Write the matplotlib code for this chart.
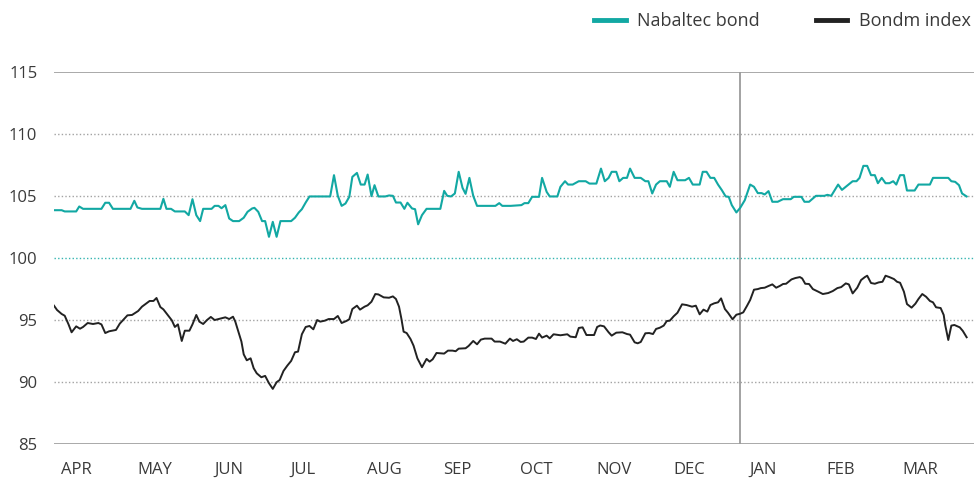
import matplotlib
matplotlib.use("Agg")
import matplotlib.pyplot as plt
from matplotlib.lines import Line2D

# ---------------- data ----------------
months = ["APR", "MAY", "JUN", "JUL", "AUG", "SEP", "OCT", "NOV", "DEC", "JAN", "FEB", "MAR"]
year_break = 8.97  # position of the year change (in months from start of April)

# Nabaltec bond (x in months since start of April)
bond_t = [0.00, 0.10, 0.14, 0.29, 0.33, 0.38, 0.62, 0.67, 0.72, 0.77, 1.00, 1.05, 1.09, 1.15,
          1.39, 1.43, 1.47, 1.53, 1.58, 1.71, 1.76, 1.81, 1.86, 1.91, 1.95, 2.06, 2.10, 2.15,
          2.19, 2.24, 2.29, 2.34, 2.42, 2.48, 2.53, 2.59, 2.62, 2.67, 2.72, 2.76, 2.81, 2.86,
          2.91, 2.96, 3.10, 3.15, 3.20, 3.24, 3.29, 3.34, 3.61, 3.66, 3.71, 3.76, 3.81, 3.86,
          3.90, 3.96, 4.01, 4.06, 4.10, 4.15, 4.19, 4.24, 4.33, 4.38, 4.43, 4.47, 4.53, 4.58,
          4.62, 4.68, 4.72, 4.76, 4.81, 4.87, 5.05, 5.10, 5.14, 5.19, 5.24, 5.29, 5.34, 5.38,
          5.43, 5.48, 5.53, 5.77, 5.82, 5.86, 5.97, 6.11, 6.15, 6.20, 6.25, 6.34, 6.38, 6.44,
          6.48, 6.58, 6.62, 6.68, 6.72, 6.78, 6.86, 6.95, 7.00, 7.09, 7.15, 7.20, 7.25, 7.29,
          7.35, 7.39, 7.44, 7.49, 7.53, 7.59, 7.67, 7.73, 7.77, 7.82, 7.87, 7.92, 8.01, 8.05,
          8.10, 8.15, 8.25, 8.30, 8.35, 8.44, 8.48, 8.53, 8.58, 8.63, 8.68, 8.73, 8.78, 8.82,
          8.86, 8.92, 8.97, 9.03, 9.10, 9.15, 9.20, 9.25, 9.29, 9.34, 9.39, 9.46, 9.53, 9.63,
          9.67, 9.77, 9.81, 9.87, 9.96, 10.07, 10.11, 10.16, 10.25, 10.30, 10.44, 10.49, 10.53,
          10.58, 10.63, 10.68, 10.73, 10.77, 10.82, 10.87, 10.92, 10.97, 11.01, 11.06, 11.11,
          11.15, 11.25, 11.30, 11.45, 11.49, 11.69, 11.73, 11.78, 11.83, 11.87, 11.93]
bond_v = [103.84, 103.84, 103.74, 103.74, 104.14, 103.95, 103.95, 104.44, 104.44, 103.95, 103.95,
          104.60, 104.06, 103.95, 103.95, 104.76, 103.95, 103.95, 103.74, 103.74, 103.44, 104.73,
          103.44, 102.96, 103.95, 103.95, 104.19, 104.19, 104.00, 104.25, 103.17, 102.96, 102.96,
          103.23, 103.71, 103.98, 104.03, 103.71, 102.96, 102.96, 101.69, 102.90, 101.69, 102.96,
          102.96, 103.23, 103.66, 103.92, 104.46, 104.95, 104.95, 106.67, 105.00, 104.19, 104.38,
          104.92, 106.53, 106.85, 105.91, 105.91, 106.72, 104.97, 105.86, 104.95, 104.95, 105.03,
          105.00, 104.46, 104.46, 103.95, 104.44, 103.98, 103.92, 102.70, 103.44, 103.95, 103.95,
          105.40, 105.00, 104.95, 105.19, 106.94, 105.65, 105.16, 106.45, 105.00, 104.19, 104.19,
          104.41, 104.19, 104.19, 104.25, 104.41, 104.41, 104.92, 104.92, 106.45, 105.32, 104.95,
          104.95, 105.73, 106.18, 105.91, 105.91, 106.18, 106.18, 105.99, 105.99, 107.20, 106.18,
          106.45, 106.94, 106.94, 106.18, 106.45, 106.45, 107.20, 106.45, 106.45, 106.18, 106.18,
          105.19, 105.91, 106.18, 106.18, 105.73, 106.94, 106.26, 106.26, 106.45, 105.91, 105.91,
          106.94, 106.94, 106.45, 106.45, 105.91, 105.46, 104.95, 104.92, 104.25, 103.66, 104.03,
          104.65, 105.91, 105.73, 105.22, 105.22, 105.11, 105.38, 104.52, 104.52, 104.73, 104.73,
          104.92, 104.92, 104.52, 104.52, 105.00, 105.00, 105.08, 105.00, 105.91, 105.48, 106.18,
          106.18, 106.45, 107.42, 107.42, 106.67, 106.67, 106.02, 106.45, 106.02, 106.02, 106.18,
          105.91, 106.67, 106.67, 105.43, 105.43, 105.91, 105.91, 106.45, 106.45, 106.18, 106.13,
          105.86, 105.19, 104.95]

# Bondm index
index_t = [0.00, 0.04, 0.10, 0.14, 0.19, 0.23, 0.29, 0.34, 0.38, 0.44, 0.51, 0.58, 0.62, 0.67,
           0.72, 0.81, 0.86, 0.96, 1.02, 1.10, 1.15, 1.25, 1.30, 1.34, 1.39, 1.43, 1.48, 1.54,
           1.58, 1.62, 1.67, 1.71, 1.77, 1.81, 1.86, 1.90, 1.95, 2.00, 2.05, 2.10, 2.19, 2.24,
           2.29, 2.34, 2.37, 2.41, 2.45, 2.48, 2.52, 2.57, 2.61, 2.65, 2.71, 2.76, 2.81, 2.86,
           2.91, 2.95, 3.00, 3.05, 3.10, 3.15, 3.19, 3.24, 3.29, 3.34, 3.39, 3.44, 3.48, 3.54,
           3.59, 3.66, 3.71, 3.76, 3.82, 3.86, 3.90, 3.96, 4.00, 4.06, 4.10, 4.15, 4.20, 4.24,
           4.31, 4.38, 4.43, 4.47, 4.51, 4.54, 4.57, 4.61, 4.66, 4.70, 4.75, 4.81, 4.87, 4.91,
           4.95, 5.00, 5.10, 5.15, 5.21, 5.25, 5.29, 5.38, 5.42, 5.48, 5.53, 5.58, 5.63, 5.72,
           5.76, 5.83, 5.90, 5.96, 6.00, 6.05, 6.10, 6.14, 6.20, 6.25, 6.30, 6.34, 6.38, 6.44,
           6.48, 6.53, 6.62, 6.71, 6.75, 6.82, 6.86, 6.91, 6.96, 7.06, 7.10, 7.14, 7.19, 7.25,
           7.29, 7.35, 7.43, 7.49, 7.53, 7.59, 7.63, 7.67, 7.73, 7.78, 7.83, 7.87, 7.92, 7.97,
           8.01, 8.05, 8.10, 8.15, 8.21, 8.27, 8.34, 8.39, 8.44, 8.49, 8.54, 8.58, 8.63, 8.68,
           8.72, 8.77, 8.81, 8.87, 8.92, 8.97, 9.01, 9.06, 9.10, 9.15, 9.20, 9.24, 9.29, 9.34,
           9.39, 9.44, 9.49, 9.53, 9.57, 9.64, 9.69, 9.75, 9.78, 9.82, 9.87, 9.92, 9.99, 10.05,
           10.12, 10.18, 10.24, 10.29, 10.35, 10.39, 10.44, 10.50, 10.55, 10.60, 10.63, 10.68,
           10.73, 10.78, 10.83, 10.87, 10.92, 10.98, 11.02, 11.06, 11.11, 11.15, 11.21, 11.26,
           11.30, 11.35, 11.40, 11.45, 11.49, 11.53, 11.59, 11.63, 11.65, 11.69, 11.73, 11.77,
           11.84, 11.88, 11.93]
index_v = [96.13, 95.78, 95.46, 95.32, 94.62, 93.98, 94.46, 94.27, 94.41, 94.73, 94.65, 94.73,
           94.62, 93.92, 94.06, 94.17, 94.68, 95.35, 95.38, 95.70, 96.05, 96.51, 96.51, 96.75,
           96.02, 95.83, 95.43, 94.95, 94.41, 94.62, 93.28, 94.11, 94.11, 94.62, 95.38, 94.84,
           94.65, 94.97, 95.22, 94.97, 95.11, 95.19, 95.05, 95.24, 94.84, 94.03, 93.23, 92.20,
           91.72, 91.88, 91.08, 90.67, 90.35, 90.46, 89.87, 89.41, 89.95, 90.13, 90.86, 91.29,
           91.67, 92.37, 92.42, 93.82, 94.41, 94.49, 94.22, 94.97, 94.84, 94.92, 95.05, 95.05,
           95.30, 94.73, 94.89, 95.03, 95.86, 96.13, 95.81, 96.05, 96.16, 96.45, 97.07, 97.04,
           96.80, 96.77, 96.88, 96.67, 96.05, 95.11, 94.03, 93.92, 93.44, 92.90, 91.88, 91.16,
           91.83, 91.61, 91.80, 92.31, 92.26, 92.50, 92.50, 92.45, 92.66, 92.69, 92.88, 93.28,
           93.01, 93.39, 93.47, 93.47, 93.23, 93.23, 93.06, 93.47, 93.28, 93.42, 93.20, 93.23,
           93.55, 93.55, 93.44, 93.87, 93.55, 93.71, 93.49, 93.82, 93.74, 93.82, 93.63, 93.58,
           94.33, 94.38, 93.76, 93.76, 94.41, 94.53, 94.46, 93.98, 93.71, 93.95, 93.98, 93.84,
           93.79, 93.17, 93.09, 93.20, 93.90, 93.92, 93.84, 94.25, 94.35, 94.52, 94.89, 94.92,
           95.27, 95.56, 96.24, 96.18, 96.05, 96.13, 95.43, 95.81, 95.65, 96.18, 96.32, 96.40,
           96.72, 95.86, 95.56, 95.03, 95.40, 95.48, 95.59, 96.13, 96.59, 97.42, 97.47, 97.55,
           97.58, 97.72, 97.85, 97.58, 97.73, 97.88, 97.90, 98.25, 98.36, 98.44, 98.33, 97.90,
           97.88, 97.47, 97.26, 97.07, 97.15, 97.31, 97.55, 97.63, 97.93, 97.85, 97.12, 97.58,
           98.20, 98.44, 98.55, 97.96, 97.90, 98.01, 98.06, 98.55, 98.44, 98.28, 98.06, 97.98,
           97.26, 96.26, 95.97, 96.29, 96.67, 97.07, 96.85, 96.51, 96.40, 96.00, 95.94, 95.38,
           94.57, 93.36, 94.52, 94.57, 94.38, 94.09, 93.58]

y_ticks = [85, 90, 95, 100, 105, 110, 115]

# ---------------- style ----------------
TEAL = "#12a8a3"
BLACK = "#222222"
GRID = "#a3a3a3"
TEXT = "#3a3a3a"
plt.rcParams["font.family"] = ["Open Sans", "DejaVu Sans"]

W, H = 974, 484
fig = plt.figure(figsize=(W / 100, H / 100), dpi=100)
ax = fig.add_axes([54 / W, 1 - 443.5 / H, (W - 54) / W, (443.5 - 72) / H])
ax.set_xlim(0, (W - 54) / 76.5)
ax.set_ylim(85, 115)

for s in ax.spines.values():
    s.set_visible(False)

# horizontal reference lines
for yv in y_ticks:
    if yv in (85, 115):
        ax.axhline(yv, color="#9b9b9b", lw=1.2, zorder=1)
    elif yv == 100:
        ax.axhline(yv, color=TEAL, lw=1.0, ls=(0, (1, 1.6)), zorder=1, alpha=0.85)
    else:
        ax.axhline(yv, color=GRID, lw=1.0, ls=(0, (1, 1.6)), zorder=1)

ax.axvline(year_break, color="#9b9b9b", lw=1.3, zorder=1)

ax.plot(bond_t, bond_v, color=TEAL, lw=1.5, zorder=3, label="Nabaltec bond")
ax.plot(index_t, index_v, color=BLACK, lw=1.4, zorder=3, label="Bondm index")

ax.set_yticks(y_ticks)
ax.set_yticklabels([str(v) for v in y_ticks])
ax.set_xticks([i + 0.09 for i in range(len(months))])
ax.set_xticklabels(months)
for lab in ax.get_xticklabels():
    lab.set_horizontalalignment("left")
ax.tick_params(axis="both", length=0, labelsize=12, colors=TEXT)
ax.tick_params(axis="y", pad=12)
ax.tick_params(axis="x", pad=13)

handles = [Line2D([0], [0], color=TEAL, lw=3.5), Line2D([0], [0], color=BLACK, lw=3.5)]
leg = fig.legend(handles, ["Nabaltec bond", "Bondm index"], loc="center right",
                 bbox_to_anchor=(0.997, 1 - 21.5 / H), ncol=2, frameon=False, fontsize=13,
                 handlelength=1.75, handletextpad=0.65, columnspacing=3.1,
                 borderaxespad=0.0, borderpad=0.0)
for t in leg.get_texts():
    t.set_color(TEXT)

fig.savefig("out.png", dpi=100)
